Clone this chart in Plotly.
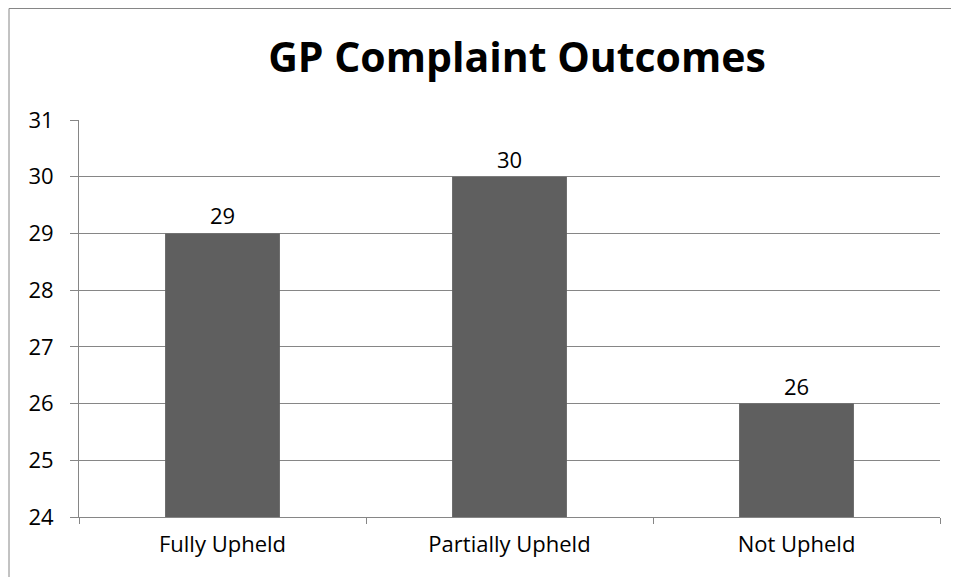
import plotly.graph_objects as go

outcomes = ["Fully Upheld", "Partially Upheld", "Not Upheld"]
complaints = [29, 30, 26]
y_ticks = [24, 25, 26, 27, 28, 29, 30, 31]

line_grey = "#868686"
font_family = "Open Sans, Liberation Sans, sans-serif"

# page has an 8px body margin, so the figure is shifted by 8px
fig = go.Figure(
    go.Bar(
        x=outcomes,
        y=complaints,
        marker=dict(color="#5f5f5f", line=dict(width=0)),
        text=complaints,
        textposition="outside",
        cliponaxis=False,
        textfont=dict(size=22, color="black", family=font_family),
    )
)

fig.update_layout(
    width=959,
    height=577,
    margin=dict(l=71, r=27, t=112, b=68),
    paper_bgcolor="white",
    plot_bgcolor="white",
    bargap=0.6,
    showlegend=False,
    title=dict(
        text="<b>GP Complaint Outcomes</b>",
        x=(517 - 8) / 959,
        xanchor="center",
        y=1 - 50 / 577,
        yanchor="middle",
        font=dict(size=41, color="black", family=font_family),
    ),
    font=dict(family=font_family, color="black"),
)

fig.update_xaxes(
    showline=True,
    linecolor=line_grey,
    linewidth=1,
    ticks="outside",
    tickson="boundaries",
    ticklen=6,
    tickcolor=line_grey,
    ticklabelstandoff=8,
    tickfont=dict(size=22, color="black"),
    showgrid=False,
)
fig.update_yaxes(
    range=[24, 31],
    tickvals=y_ticks,
    showline=True,
    linecolor=line_grey,
    linewidth=1,
    ticks="outside",
    ticklen=8,
    tickcolor=line_grey,
    ticklabelstandoff=12,
    gridcolor=line_grey,
    gridwidth=1,
    zeroline=False,
    tickfont=dict(size=22, color="black"),
)

# outer chart border (runs past the bottom edge like the source image)
fig.add_shape(
    type="rect",
    xref="paper",
    yref="paper",
    x0=(1 - 71) / 861,
    x1=(947 - 71) / 861,
    y0=(509 - 620) / 397,
    y1=(509 - 0.5) / 397,
    line=dict(color=line_grey, width=1),
    fillcolor="rgba(0,0,0,0)",
    layer="below",
)

fig.write_html("out.html")
